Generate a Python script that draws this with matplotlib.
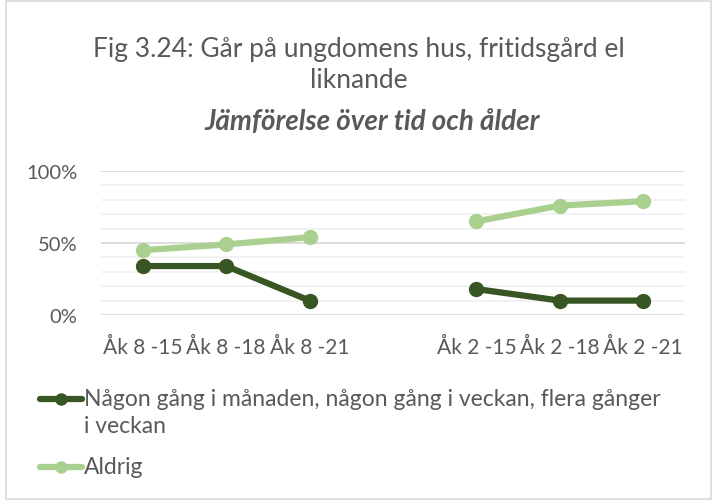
import matplotlib
matplotlib.use("Agg")
import matplotlib.pyplot as plt
from matplotlib.patches import Rectangle
from matplotlib.lines import Line2D
import numpy as np

plt.rcParams['font.family'] = ['Lato', 'DejaVu Sans']

categories = ["Åk 8 -15", "Åk 8 -18", "Åk 8 -21", "", "Åk 2 -15", "Åk 2 -18", "Åk 2 -21"]
ofta = [34, 34, 10, np.nan, 18, 10, 10]
aldrig = [45, 49, 54, np.nan, 65, 76, 79]
yticks = [0, 50, 100]
ytick_labels = ["0%", "50%", "100%"]
series_labels = ["Någon gång i månaden, någon gång i veckan, flera gånger\ni veckan", "Aldrig"]

dark = "#375623"
light = "#a9d08e"
txt = "#595959"

fig = plt.figure(figsize=(7.17, 5.02), dpi=100)
fig.patches.append(Rectangle((0.008, 0.004), 0.984, 0.992, transform=fig.transFigure,
                             fill=False, edgecolor="#d9d9d9", linewidth=1.2))

ax = fig.add_axes([101/717, 1-316/502, 584/717, 144/502])
x = np.arange(len(categories))
ax.plot(x, ofta, color=dark, lw=4.5, marker="o", ms=10, solid_capstyle="round", zorder=3)
ax.plot(x, aldrig, color=light, lw=4.5, marker="o", ms=10, solid_capstyle="round", zorder=3)
ax.set_xlim(-0.5, len(categories)-0.5)
ax.set_ylim(0, 100)
for v in range(10, 100, 10):
    ax.axhline(v, color="#f0f0f0", lw=1.2, zorder=1)
for v in yticks:
    ax.axhline(v, color="#d9d9d9", lw=1.2, zorder=1)
ax.set_yticks(yticks)
ax.set_yticklabels(ytick_labels, color=txt, fontsize=14.5)
ax.set_xticks(x)
ax.set_xticklabels(categories, color=txt, fontsize=15)
ax.tick_params(axis='x', length=0, pad=16)
ax.tick_params(axis='y', length=0, pad=17)
for s in ax.spines.values():
    s.set_visible(False)

fig.text(0.5, 1-50/502, "Fig 3.24: Går på ungdomens hus, fritidsgård el", ha="center", va="center",
         fontsize=19, color=txt)
fig.text(0.5, 1-80/502, "liknande", ha="center", va="center", fontsize=19, color=txt)
fig.text(372/717, 1-122/502, "Jämförelse över tid och ålder", ha="center", va="center", fontsize=20,
         color=txt, fontweight="bold", fontstyle="italic")

# legend drawn manually so the key aligns with the first text line
for col, yk, lab in [(dark, 400, series_labels[0]), (light, 468, series_labels[1])]:
    yf = 1 - yk/502
    fig.add_artist(Line2D([40/717, 82/717], [yf, yf], transform=fig.transFigure, color=col,
                          lw=4.5, solid_capstyle="round"))
    fig.add_artist(Line2D([61/717], [yf], transform=fig.transFigure, color=col, marker="o", ms=8))
    fig.text(84/717, yf + 10.5/502, lab, ha="left", va="top", fontsize=16.5, color=txt,
             linespacing=1.3)

fig.savefig("out.png", dpi=100)
